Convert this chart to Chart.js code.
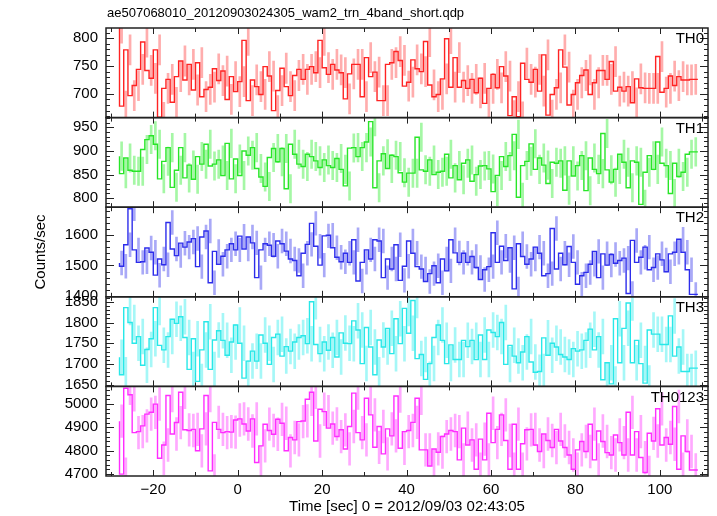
<!DOCTYPE html>
<html>
<head>
<meta charset="utf-8">
<script src="https://cdn.jsdelivr.net/npm/chart.js@4.4.0/dist/chart.umd.min.js"></script>
<style>
  html, body { margin: 0; padding: 0; background: #fff; }
  #wrap { width: 717px; height: 516px; }
</style>
</head>
<body>
<div id="wrap"><canvas id="lc" width="717" height="516"></canvas></div>
<script>
// 1 s bins, first bin starts at t = -28 s
const binStart = -28;
const binWidth = 1;

const rateTH0 = [
  818,678,779,697,715,744,793,742,728,779,
  658,710,726,685,731,759,725,753,707,756,
  695,708,712,745,724,741,690,731,704,722,
  796,688,725,713,699,749,732,670,706,746,
  713,697,733,744,726,744,749,738,796,747,
  735,753,743,738,691,736,753,753,695,765,
  731,739,688,688,753,756,776,760,714,721,
  761,745,740,794,716,695,699,727,799,712,
  765,712,724,710,726,702,728,683,710,735,
  711,749,732,661,695,659,755,726,721,744,
  705,770,662,699,711,779,748,680,699,720,
  733,743,699,720,742,742,726,758,705,712,
  705,713,684,727,711,710,710,710,767,703,
  710,732,715,731,725,725,726];
const rateTH1 = [
  889,852,885,859,857,857,903,924,932,914,
  841,878,907,823,859,907,843,870,840,888,
  872,914,868,872,881,848,916,841,883,848,
  900,891,907,863,845,825,886,905,877,905,
  820,914,893,872,867,893,888,879,865,881,
  869,865,884,861,826,906,907,888,907,919,
  962,822,879,894,863,891,888,854,834,853,
  853,929,860,857,881,850,855,857,893,843,
  869,839,874,881,836,850,868,869,862,814,
  848,888,867,890,935,802,869,878,915,861,
  885,870,831,876,874,879,817,879,847,869,
  890,816,885,861,852,937,860,834,861,893,
  876,822,879,876,787,855,890,861,919,874,
  869,810,874,846,855,893,898];
const rateTH2 = [
  1508,1497,1568,1686,1551,1510,1512,1557,1543,1468,
  1521,1502,1641,1554,1532,1573,1560,1577,1588,1496,
  1593,1613,1443,1546,1504,1530,1551,1571,1551,1596,
  1554,1593,1574,1460,1551,1571,1566,1530,1580,1571,
  1547,1521,1516,1466,1540,1569,1638,1563,1501,1597,
  1599,1558,1527,1512,1540,1510,1584,1449,1510,1551,
  1521,1584,1580,1460,1521,1488,1568,1451,1497,1580,
  1540,1496,1488,1447,1473,1499,1443,1521,1482,1584,
  1541,1510,1540,1510,1529,1493,1454,1486,1496,1607,
  1510,1563,1516,1558,1423,1571,1529,1504,1521,1560,
  1540,1466,1473,1621,1488,1540,1502,1562,1510,1438,
  1466,1477,1504,1546,1460,1538,1501,1536,1507,1516,
  1524,1408,1582,1510,1527,1560,1486,1493,1538,1518,
  1479,1538,1543,1586,1543,1486,1405];
const rateTH3 = [
  1716,1674,1836,1800,1750,1766,1697,1735,1761,1836,
  1745,1734,1766,1808,1798,1814,1764,1687,1761,1658,
  1734,1802,1687,1758,1780,1757,1721,1753,1794,1750,
  1666,1707,1731,1707,1770,1750,1699,1764,1772,1719,
  1742,1731,1753,1764,1768,1749,1850,1747,1725,1753,
  1733,1764,1717,1775,1750,1749,1804,1782,1701,1788,
  1741,1674,1758,1741,1786,1725,1809,1749,1834,1774,
  1853,1713,1723,1663,1701,1764,1794,1757,1701,1746,
  1711,1711,1757,1742,1757,1711,1770,1711,1782,1776,
  1766,1800,1699,1745,1719,1703,1729,1766,1705,1680,
  1682,1763,1721,1750,1741,1723,1717,1711,1737,1731,
  1734,1757,1784,1734,1766,1662,1703,1652,1809,1703,
  1786,1847,1703,1757,1701,1654,1782,1772,1772,1747,
  1747,1816,1719,1741,1682,1682,1690];
const rateTH0123 = [
  4926,4699,5067,5039,4877,4881,4906,4956,4964,4999,
  4767,4824,5036,4871,4920,5050,4889,4886,4891,4799,
  4893,5036,4713,4921,4891,4877,4881,4879,4931,4936,
  4914,4884,4936,4749,4820,4913,4886,4870,4934,4917,
  4799,4856,4846,4924,4927,5020,5050,4841,4977,4967,
  4896,4914,4860,4889,4807,4903,5046,4877,4846,5024,
  4953,4814,4903,4786,4893,4863,5034,4810,4881,4886,
  4921,5024,4803,4803,4734,4807,4793,4860,4871,4886,
  4881,4760,4896,4824,4846,4720,4849,4760,4960,4834,
  4891,4953,4843,4720,4913,4720,4829,4889,4891,4824,
  4796,4871,4843,4813,4891,4841,4813,4781,4720,4803,
  4839,4796,4913,4760,4884,4839,4791,4781,4867,4834,
  4781,4964,4781,4881,4770,4706,4874,4841,4979,4824,
  4856,4827,4989,4720,4863,4796,4717];

// typical 1-sigma error per band (counts/sec)
const errTH0 = 27, errTH1 = 30, errTH2 = 39, errTH3 = 42, errTH0123 = 70;

const xTicks = [-20, 0, 20, 40, 60, 80, 100];
const ticksTH0 = [700, 750, 800];
const ticksTH1 = [800, 850, 900, 950];
const ticksTH2 = [1400, 1500, 1600];
const ticksTH3 = [1650, 1700, 1750, 1800, 1850];
const ticksTH0123 = [4700, 4800, 4900, 5000];

const panels = [
  { id: 'yTH0', label: 'TH0', rates: rateTH0, err: errTH0, ticks: ticksTH0, min: 657.5, max: 818.2, minor: 10,
    line: 'rgb(255,35,35)', bar: 'rgba(255,60,60,0.42)' },
  { id: 'yTH1', label: 'TH1', rates: rateTH1, err: errTH1, ticks: ticksTH1, min: 781, max: 970.5, minor: 10,
    line: 'rgb(40,230,40)', bar: 'rgba(40,235,40,0.42)' },
  { id: 'yTH2', label: 'TH2', rates: rateTH2, err: errTH2, ticks: ticksTH2, min: 1397, max: 1691, minor: 20,
    line: 'rgb(45,45,235)', bar: 'rgba(50,50,235,0.42)' },
  { id: 'yTH3', label: 'TH3', rates: rateTH3, err: errTH3, ticks: ticksTH3, min: 1646, max: 1862, minor: 10,
    line: 'rgb(40,232,232)', bar: 'rgba(40,235,235,0.42)' },
  { id: 'yTH0123', label: 'TH0123', rates: rateTH0123, err: errTH0123, ticks: ticksTH0123, min: 4691, max: 5075, minor: 20,
    line: 'rgb(255,45,255)', bar: 'rgba(255,50,255,0.42)' }
];

const FONT = "'Liberation Sans', Arial, Helvetica, sans-serif";

const datasets = [];
const scales = {
  x: {
    type: 'linear', min: -31.2, max: 111.4, offset: false,
    grid: { display: false, drawTicks: false }, border: { display: false },
    afterBuildTicks: s => { s.ticks = xTicks.map(v => ({ value: v })); },
    afterFit: s => { s.height = 40; },
    ticks: { padding: 5, color: '#000', font: { family: FONT, size: 15 }, maxRotation: 0,
      callback: v => v < 0 ? '\u2212' + Math.abs(v) : String(v) },
    title: { display: true, text: 'Time [sec] 0 = 2012/09/03 02:43:05', color: '#000',
      font: { family: FONT, size: 15 }, padding: { top: 0, bottom: 0 } }
  }
};

panels.forEach((p, k) => {
  const edges = p.rates.map((_, i) => binStart + i * binWidth);
  const steps = p.rates.map((v, i) => ({ x: edges[i], y: v }));
  steps.push({ x: edges[edges.length - 1] + binWidth, y: p.rates[p.rates.length - 1] });
  const bars = p.rates.map((v, i) => ({ x: edges[i] + binWidth / 2, y: [v - p.err, v + p.err] }));

  datasets.push({
    type: 'line', label: p.label, data: steps, yAxisID: p.id, stepped: 'after',
    borderColor: p.line, borderWidth: 1.4, pointRadius: 0, fill: false, order: 1
  });
  datasets.push({
    type: 'bar', label: p.label + ' err', data: bars, yAxisID: p.id,
    backgroundColor: p.bar, barThickness: 2, grouped: false, order: 2
  });

  scales[p.id] = {
    type: 'linear', position: 'left', stack: 'panels', stackWeight: 1, weight: 10 - k,
    min: p.min, max: p.max, offset: false,
    grid: { display: false, drawTicks: false }, border: { display: false },
    afterBuildTicks: s => { s.ticks = p.ticks.map(v => ({ value: v })); },
    afterFit: s => { s.width = 60; },
    ticks: { padding: 8, color: '#000', autoSkip: false, font: { family: FONT, size: 15 },
      callback: v => String(v) }
  };
});

const qdpFrame = {
  id: 'qdpFrame',
  beforeDatasetDraw(chart, args) {
    const ys = chart.scales[args.meta.yAxisID];
    const a = chart.chartArea;
    const ctx = chart.ctx;
    ctx.save();
    ctx.beginPath();
    ctx.rect(a.left, ys.top, a.right - a.left, ys.bottom - ys.top);
    ctx.clip();
  },
  afterDatasetDraw(chart) {
    chart.ctx.restore();
  },
  afterDraw(chart) {
    const ctx = chart.ctx;
    const a = chart.chartArea;
    const xs = chart.scales.x;
    ctx.save();
    ctx.strokeStyle = '#222';
    ctx.fillStyle = '#000';
    panels.forEach(p => {
      const ys = chart.scales[p.id];
      ctx.lineWidth = 1.5;
      ctx.strokeRect(a.left, ys.top, a.right - a.left, ys.bottom - ys.top);
      ctx.lineWidth = 1;
      ctx.beginPath();
      const first = Math.ceil(p.min / p.minor) * p.minor;
      for (let v = first; v <= p.max; v += p.minor) {
        const py = Math.round(ys.getPixelForValue(v)) + 0.5;
        const len = p.ticks.includes(v) ? 8 : 4;
        ctx.moveTo(a.left, py); ctx.lineTo(a.left + len, py);
        ctx.moveTo(a.right, py); ctx.lineTo(a.right - len, py);
      }
      for (let v = -30; v <= 110; v += 10) {
        const px = Math.round(xs.getPixelForValue(v)) + 0.5;
        const len = v % 20 === 0 ? 6 : 4;
        ctx.moveTo(px, ys.top); ctx.lineTo(px, ys.top + len);
        ctx.moveTo(px, ys.bottom); ctx.lineTo(px, ys.bottom - len);
      }
      ctx.stroke();
      ctx.font = '15px ' + FONT;
      ctx.textAlign = 'right';
      ctx.textBaseline = 'middle';
      ctx.fillText(p.label, a.right - 4, ys.top + 11);
    });
    ctx.font = '13px ' + FONT;
    ctx.textAlign = 'left';
    ctx.textBaseline = 'middle';
    ctx.fillText('ae507068010_20120903024305_wam2_trn_4band_short.qdp', 107, 13);
    ctx.translate(41, (a.top + a.bottom) / 2);
    ctx.rotate(-Math.PI / 2);
    ctx.font = '15px ' + FONT;
    ctx.textAlign = 'center';
    ctx.fillText('Counts/sec', 0, 0);
    ctx.restore();
  }
};

new Chart(document.getElementById('lc'), {
  type: 'line',
  data: { datasets: datasets },
  options: {
    responsive: false,
    animation: false,
    devicePixelRatio: 1,
    layout: { padding: { left: 46, right: 9, top: 28, bottom: 0 } },
    plugins: { legend: { display: false }, tooltip: { enabled: false } },
    scales: scales
  },
  plugins: [qdpFrame]
});
</script>
</body>
</html>
